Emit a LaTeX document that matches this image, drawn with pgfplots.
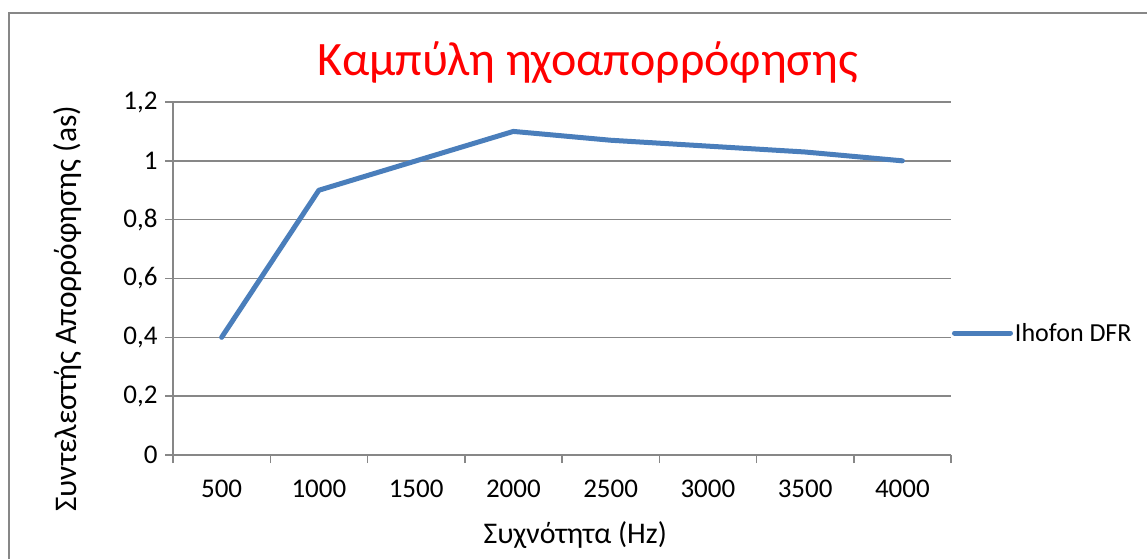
\documentclass[border=0pt]{standalone}
\usepackage{fontspec}
\setmainfont{Carlito}
\usepackage{pgfplots}
\pgfplotsset{compat=1.18}
\definecolor{linebl}{HTML}{4A7EBB}
\definecolor{gridg}{HTML}{878787}
\begin{document}
\begin{tikzpicture}[x=1pt,y=1pt]
\path[use as bounding box] (0,0) rectangle (1147,559);
\draw[gridg, line width=1.5pt] (9,0) -- (9,546) -- (1147,546);
\begin{axis}[
  at={(173pt,104pt)}, anchor=south west,
  scale only axis, width=778pt, height=353pt,
  xmin=-0.5, xmax=7.5, ymin=0, ymax=1.2,
  axis x line*=bottom, axis y line*=left,
  axis line style={gridg, line width=1.5pt},
  xtick={0,...,7},
  xticklabels={500,1000,1500,2000,2500,3000,3500,4000},
  minor xtick={-0.5,0.5,...,7.5},
  major x tick style={draw=none},
  minor x tick style={gridg, line width=1.5pt},
  ytick={0,0.2,...,1.2},
  y tick style={gridg, line width=1.5pt},
  tick align=outside,
  major tick length=8pt, minor tick length=8pt,
  ymajorgrids, grid style={gridg, line width=1.5pt},
  /pgf/number format/.cd, use comma, fixed, precision=1, assume math mode=true,
  /pgfplots/.cd,
  tick label style={font=\fontsize{27}{32}\selectfont, text=black},
  xticklabel style={yshift=-13pt},
  yticklabel style={xshift=-4pt},
  xlabel={Συχνότητα (Hz)},
  xlabel style={font=\fontsize{30}{36}\selectfont, at={(axis description cs:0.517,-0.227)}, anchor=center},
  ylabel={Συντελεστής Απορρόφησης (as)},
  ylabel style={font=\fontsize{31.5}{38}\selectfont, at={(axis description cs:-0.135,0.414)}, anchor=center},
  title={Καμπύλη ηχοαπορρόφησης},
  title style={font=\fontsize{48}{58}\selectfont, text=red, at={(axis description cs:0.533,1.094)}, anchor=center},
  legend style={at={(axis description cs:1.001,0.3456)}, anchor=west, draw=none, fill=none, inner sep=0pt,
    font=\fontsize{26}{31}\selectfont},
  legend cell align=left,
  legend image code/.code={\draw[#1] (0pt,0pt) -- (56pt,0pt);},
]
\addplot[linebl, line width=5pt, line cap=round, line join=round] coordinates {
  (0,0.4) (1,0.9) (2,1.0) (3,1.1) (4,1.07) (5,1.05) (6,1.03) (7,1.0)
};
\addlegendentry{Ihofon DFR}
\end{axis}
\end{tikzpicture}
\end{document}
